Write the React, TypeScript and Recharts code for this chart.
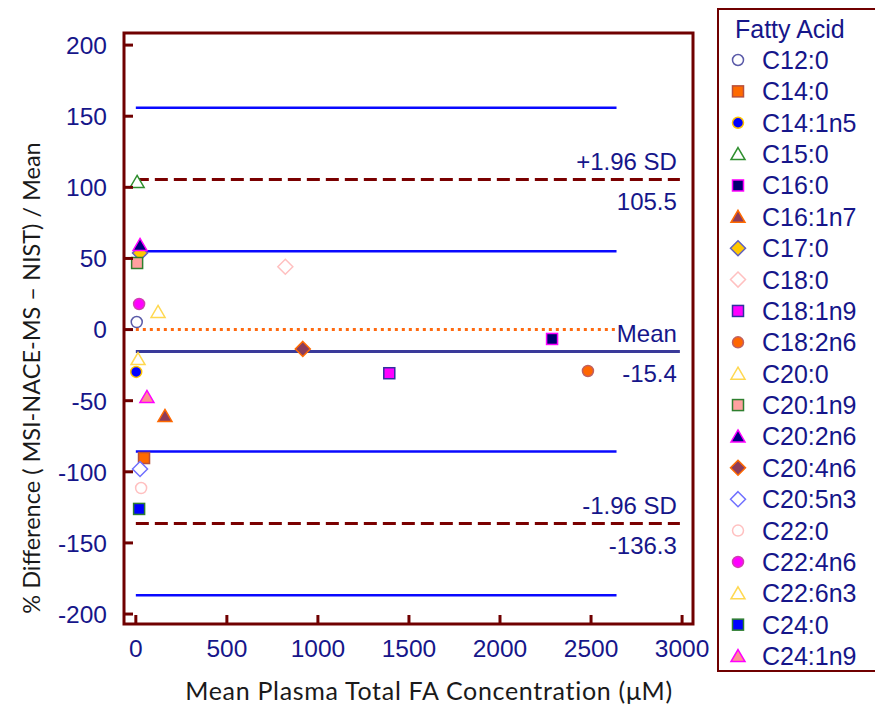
import React from 'react';
import {
  ScatterChart,
  Scatter,
  XAxis,
  YAxis,
  ReferenceLine,
  ReferenceArea,
  Label,
} from 'recharts';

// Bland-Altman data: one point per fatty acid
const fattyAcids = [
  'C12:0', 'C14:0', 'C14:1n5', 'C15:0', 'C16:0', 'C16:1n7', 'C17:0',
  'C18:0', 'C18:1n9', 'C18:2n6', 'C20:0', 'C20:1n9', 'C20:2n6', 'C20:4n6',
  'C20:5n3', 'C22:0', 'C22:4n6', 'C22:6n3', 'C24:0', 'C24:1n9',
];
const meanConcentration = [
  5, 45, 2, 7, 2286, 160, 23, 821, 1392, 2483, 122, 7, 23, 917, 23, 29, 18, 12, 18, 61,
];
const pctDifference = [
  5.3, -90.3, -29.8, 103.8, -6.6, -60.7, 53.8, 44.2, -30.7, -29.1, 12.4, 46.8, 59.5,
  -13.6, -98, -111.4, 18, -20.7, -126.1, -47.4,
];

const xTicks = [0, 500, 1000, 1500, 2000, 2500, 3000];
const yTicks = [-200, -150, -100, -50, 0, 50, 100, 150, 200];

// agreement statistics
const meanBias = -15.4;
const upperLimit = 105.5;
const lowerLimit = -136.3;
const limitCI = 50.5;
const limitLineEnd = 2988;
const ciLineEnd = 2640;

const xDomain = [-65, 3060];
const yDomain = [-207, 208.5];

type Shape = 'circle' | 'square' | 'triangle' | 'diamond';
interface MarkerStyle {
  shape: Shape;
  fill: string;
  stroke: string;
}

const markerStyles: MarkerStyle[] = [
  { shape: 'circle', fill: '#ffffff', stroke: '#5a5aa8' },
  { shape: 'square', fill: '#ff6a00', stroke: '#b8503c' },
  { shape: 'circle', fill: '#0000ff', stroke: '#ffc400' },
  { shape: 'triangle', fill: '#ffffff', stroke: '#2f8f2f' },
  { shape: 'square', fill: '#000070', stroke: '#ff00ff' },
  { shape: 'triangle', fill: '#8c3c5c', stroke: '#ff6a00' },
  { shape: 'diamond', fill: '#ffc800', stroke: '#6060c0' },
  { shape: 'diamond', fill: '#ffffff', stroke: '#ffc0c0' },
  { shape: 'square', fill: '#ff00ff', stroke: '#3030a0' },
  { shape: 'circle', fill: '#ff6600', stroke: '#c06060' },
  { shape: 'triangle', fill: '#ffffff', stroke: '#ffd850' },
  { shape: 'square', fill: '#ffa0a0', stroke: '#2f7f2f' },
  { shape: 'triangle', fill: '#000080', stroke: '#ff00ff' },
  { shape: 'diamond', fill: '#8c3c5c', stroke: '#ff6a00' },
  { shape: 'diamond', fill: '#ffffff', stroke: '#7070ff' },
  { shape: 'circle', fill: '#ffffff', stroke: '#ffc0c0' },
  { shape: 'circle', fill: '#ff00ff', stroke: '#d040b0' },
  { shape: 'triangle', fill: '#ffffff', stroke: '#ffd850' },
  { shape: 'square', fill: '#0000ff', stroke: '#2f7f2f' },
  { shape: 'triangle', fill: '#ff9090', stroke: '#ff00ff' },
];

const frameColor = '#700000';
const navy = '#16168a';
const numberFont = '"Liberation Sans", Arial, sans-serif';
const titleFont = 'Lato, "Open Sans", sans-serif';

const X_TICK_MARGIN = 33;
const Y_TICK_MARGIN = 17;

function Marker({ cx, cy, shape, fill, stroke }: MarkerStyle & { cx: number; cy: number }) {
  const common = { fill, stroke, strokeWidth: 1.5 };
  switch (shape) {
    case 'circle':
      return <circle cx={cx} cy={cy} r={5.5} {...common} />;
    case 'square':
      return <rect x={cx - 5.5} y={cy - 5.5} width={11} height={11} {...common} />;
    case 'triangle':
      return (
        <polygon
          points={`${cx},${cy - 6.5} ${cx + 7},${cy + 5.5} ${cx - 7},${cy + 5.5}`}
          {...common}
        />
      );
    default:
      return (
        <polygon
          points={`${cx},${cy - 7.5} ${cx + 7.5},${cy} ${cx},${cy + 7.5} ${cx - 7.5},${cy}`}
          {...common}
        />
      );
  }
}

const XTick = (props: any) => {
  const { x, y, payload } = props;
  const axisY = y - X_TICK_MARGIN;
  return (
    <g>
      <line x1={x} y1={axisY} x2={x} y2={axisY - 9} stroke={frameColor} strokeWidth={3} />
      <text x={x} y={y} textAnchor="middle" fill={navy} fontSize={24.5} fontFamily={numberFont}>
        {String(payload.value)}
      </text>
    </g>
  );
};

const YTick = (props: any) => {
  const { x, y, payload } = props;
  const axisX = x + Y_TICK_MARGIN;
  return (
    <g>
      <line x1={axisX} y1={y} x2={axisX + 9} y2={y} stroke={frameColor} strokeWidth={3} />
      <text x={x} y={y} dy="0.36em" textAnchor="end" fill={navy} fontSize={24.5} fontFamily={numberFont}>
        {String(payload.value)}
      </text>
    </g>
  );
};

// text above and below the right end of a horizontal reference line
const lineLabel = (above: string, below: string) => (props: any) => {
  const { x, y, width } = props.viewBox;
  const right = x + width - 3;
  const style = { fill: navy, fontSize: 24, fontFamily: numberFont };
  return (
    <g>
      <text x={right} y={y - 9.5} textAnchor="end" {...style}>{above}</text>
      <text x={right} y={y + 30.5} textAnchor="end" {...style}>{below}</text>
    </g>
  );
};

const hSegment = (y: number, end: number) => [
  { x: 0, y },
  { x: end, y },
];

function FattyAcidLegend() {
  const left = 717;
  const rowStart = 60;
  const rowStep = 31.37;
  return (
    <div
      style={{
        position: 'absolute',
        left,
        top: 8,
        width: 180,
        height: 664,
        border: `2px solid ${frameColor}`,
        boxSizing: 'border-box',
        background: '#fff',
      }}
    >
      <svg
        width={180}
        height={690}
        style={{ position: 'absolute', left: -2, top: -10, overflow: 'visible' }}
      >
        <text x={735 - left} y={38} fill={navy} fontSize={25} fontFamily={numberFont}>
          Fatty Acid
        </text>
        {fattyAcids.map((name, i) => {
          const cy = rowStart + i * rowStep;
          return (
            <g key={name}>
              <Marker cx={738 - left} cy={cy} {...markerStyles[i]} />
              <text x={762 - left} y={cy} dy="0.36em" fill={navy} fontSize={25} fontFamily={numberFont}>
                {name}
              </text>
            </g>
          );
        })}
      </svg>
    </div>
  );
}

export default function App() {
  return (
    <div
      style={{
        position: 'absolute',
        left: 0,
        top: 0,
        width: 875,
        height: 704,
        overflow: 'hidden',
        background: '#fff',
      }}
    >
      <ScatterChart width={875} height={704} margin={{ top: 33, right: 182, bottom: 0, left: 0 }}>
        <XAxis
          type="number"
          dataKey="x"
          domain={xDomain}
          ticks={xTicks}
          interval={0}
          height={80}
          axisLine={false}
          tickLine={false}
          tickSize={0}
          tickMargin={X_TICK_MARGIN}
          tick={<XTick />}
        >
          <Label
            content={() => (
              <text
                x={429}
                y={700}
                textAnchor="middle"
                fill="#1a1a1a"
                fontSize={25}
                letterSpacing={0.7}
                fontFamily={titleFont}
              >
                Mean Plasma Total FA Concentration (μM)
              </text>
            )}
          />
        </XAxis>
        <YAxis
          type="number"
          dataKey="y"
          domain={yDomain}
          ticks={yTicks}
          interval={0}
          width={124}
          axisLine={false}
          tickLine={false}
          tickSize={0}
          tickMargin={Y_TICK_MARGIN}
          tick={<YTick />}
        />

        {/* confidence bands around the limits of agreement */}
        {[upperLimit + limitCI, upperLimit - limitCI, lowerLimit + limitCI, lowerLimit - limitCI].map(
          (v) => (
            <ReferenceLine key={v} segment={hSegment(v, ciLineEnd)} stroke="#0a0aff" strokeWidth={2.5} />
          )
        )}
        <ReferenceLine segment={hSegment(0, ciLineEnd)} stroke="#ff6a10" strokeWidth={3} strokeDasharray="3 4" />
        <ReferenceLine
          segment={hSegment(upperLimit, limitLineEnd)}
          stroke="#7a0000"
          strokeWidth={3}
          strokeDasharray="13 6"
          label={lineLabel('+1.96 SD', String(upperLimit))}
        />
        <ReferenceLine
          segment={hSegment(meanBias, limitLineEnd)}
          stroke="#3a3a9a"
          strokeWidth={3}
          label={lineLabel('Mean', String(meanBias))}
        />
        <ReferenceLine
          segment={hSegment(lowerLimit, limitLineEnd)}
          stroke="#7a0000"
          strokeWidth={3}
          strokeDasharray="13 6"
          label={lineLabel('-1.96 SD', String(lowerLimit))}
        />

        {fattyAcids.map((name, i) => (
          <Scatter
            key={name}
            name={name}
            data={[{ x: meanConcentration[i], y: pctDifference[i] }]}
            isAnimationActive={false}
            shape={(p: any) => <Marker cx={p.cx} cy={p.cy} {...markerStyles[i]} />}
          />
        ))}

        <ReferenceArea
          x1={xDomain[0]}
          x2={xDomain[1]}
          y1={yDomain[0]}
          y2={yDomain[1]}
          fill="none"
          stroke={frameColor}
          strokeWidth={3}
        />
      </ScatterChart>

      {/* y axis title */}
      <svg width={60} height={704} style={{ position: 'absolute', left: 0, top: 0 }}>
        <text
          x={40}
          y={378}
          transform="rotate(-90, 40, 378)"
          textAnchor="middle"
          fill="#1a1a1a"
          fontSize={23.5}
          fontFamily={titleFont}
        >
          % Difference ( MSI-NACE-MS – NIST) / Mean
        </text>
      </svg>
      <FattyAcidLegend />
    </div>
  );
}
